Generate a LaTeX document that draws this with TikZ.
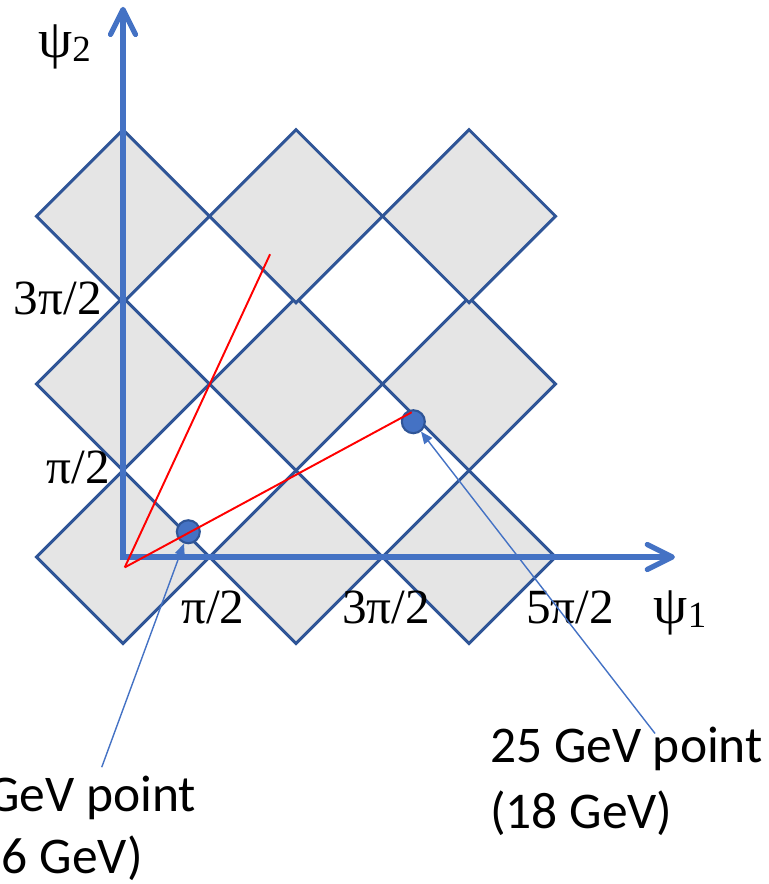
\documentclass[tikz,border=0pt]{standalone}
\usepackage{fontspec}
\setmainfont{Carlito}
\newfontfamily\serifgr{Liberation Serif}
\usetikzlibrary{arrows.meta}
\definecolor{axisblue}{HTML}{4472C4}
\definecolor{edgeblue}{HTML}{2F5597}
\tikzset{
  cell/.style={fill=gray!20, draw=edgeblue, line width=1.7pt, line join=miter},
  axis/.style={axisblue, line width=3pt, line join=miter,
    {Straight Barb[length=0.5cm,width=0.5cm,round]}-{Straight Barb[length=0.5cm,width=0.5cm,round]}},
  redline/.style={red, line width=1.1pt},
  ptr/.style={axisblue, line width=0.8pt, -{Triangle[length=0.24cm,width=0.2cm]}},
  dot/.style={circle, fill=axisblue, draw=edgeblue, line width=1.2pt,
    minimum size=0.46cm, inner sep=0pt},
  plabel/.style={font=\serifgr\fontsize{28}{32}\selectfont, inner sep=0pt},
  gev/.style={font=\fontsize{29.3}{34}\selectfont, inner sep=0pt}
}
\newcommand{\psisub}[1]{{\fontsize{31}{34}\selectfont ψ}\raisebox{-2pt}{\fontsize{21}{24}\selectfont #1}}
\begin{document}
\begin{tikzpicture}[x=1.73cm,y=1.73cm]
  \useasboundingbox (-1.422,-3.780) rectangle (7.457,6.439);

  % 菱形の格子
  \foreach \y in {0,2,3.94}
    \foreach \i in {0,1,2}
      \draw[cell] (2*\i-1,\y) -- ++(1,1) -- ++(1,-1) -- ++(-1,-1) -- cycle;

  % 座標軸
  \coordinate (O) at (0,0);
  \coordinate (X) at (6.38,0);
  \coordinate (Y) at (0,6.36);
  \draw[axis] (Y) -- (O) -- (X);

  % 軸ラベル
  \node[plabel, anchor=base] (x1) at (1.04,-0.763) {π/2};
  \node[plabel, anchor=base] (x3) at (3.04,-0.763) {3π/2};
  \node[plabel, anchor=base] (x5) at (5.17,-0.763) {5π/2};
  \node[plabel, anchor=base west] (psi1) at (6.13,-0.77) {\psisub{1}};
  \node[plabel, anchor=base east] (y3) at (-0.243,2.80) {3π/2};
  \node[plabel, anchor=base east] (y1) at (-0.15,0.855) {π/2};
  \node[plabel, anchor=base west] (psi2) at (-0.983,5.77) {\psisub{2}};

  % 点
  \node[dot] (p10) at (0.755,0.292) {};
  \node[dot] (p25) at (3.356,1.564) {};

  % 赤い線
  \coordinate (R) at (0.02,-0.12);
  \coordinate (R1) at (1.70,3.50);
  \coordinate (R2) at (3.337,1.673);
  \draw[redline] (R) -- (R1);
  \draw[redline] (R) -- (R2);

  % 説明
  \node[gev, anchor=base west] (t25) at (4.24,-2.38) {25 GeV point};
  \node[gev, anchor=base west] (t25b) at (4.24,-3.14) {(18 GeV)};
  \node[gev, anchor=base east] (t10) at (0.85,-2.944) {GeV point};
  \node[gev, anchor=base east] (t10b) at (0.231,-3.653) {16 GeV)};

  \coordinate (s10) at (-0.246,-2.43);
  \coordinate (s25) at (6.15,-2.04);
  \draw[ptr] (s10) -- (p10);
  \draw[ptr] (s25) -- (p25);
\end{tikzpicture}
\end{document}
